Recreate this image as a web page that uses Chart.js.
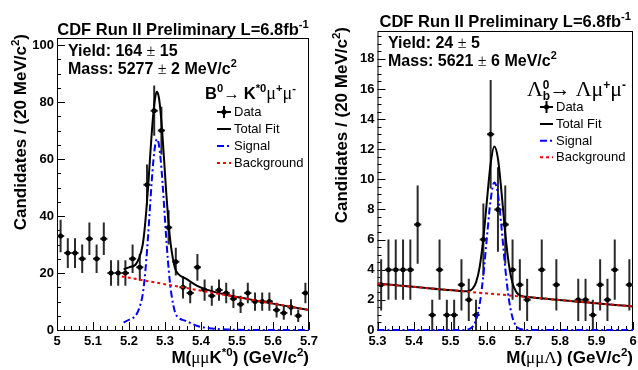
<!DOCTYPE html>
<html><head><meta charset="utf-8">
<script src="https://cdn.jsdelivr.net/npm/chart.js@4/dist/chart.umd.min.js"></script>
<style>
html,body{margin:0;padding:0;background:#fff;}
#wrap{position:relative;width:638px;height:370px;overflow:hidden;background:#fff;}
canvas{position:absolute;top:0;}
#c1{left:0;} #c2{left:319px;}
</style></head><body>
<div id="wrap"><canvas id="c1" width="319" height="370" style="width:319px;height:370px"></canvas><canvas id="c2" width="319" height="370" style="width:319px;height:370px"></canvas></div>
<script>
// ---------- LEFT: B0 -> K*0 mu mu ----------
const leftBins = [5.01,5.03,5.05,5.07,5.09,5.11,5.13,5.15,5.17,5.19,5.21,5.23,5.25,5.27,5.29,5.31,5.33,5.35,5.37,5.39,5.41,5.43,5.45,5.47,5.49,5.51,5.53,5.55,5.57,5.59,5.61,5.63,5.65,5.67,5.69];
const leftCounts = [33,27,27,25,32,25,32,20,20,20,25,22,51,77,70,36,24,15,13,22,14,12,14,13,11,9,13,10,10,10,7,6,8,5,13];
const leftErrors = [5.7,5.2,5.2,5.0,5.7,5.0,5.7,4.5,4.5,4.5,5.0,4.7,7.1,8.8,8.4,6.0,4.9,3.9,3.6,4.7,3.7,3.5,3.7,3.6,3.3,3.0,3.6,3.2,3.2,3.2,2.6,2.4,2.8,2.2,3.6];
const leftFitX = [5.185,5.20,5.218,5.228,5.238,5.243,5.248,5.253,5.258,5.263,5.268,5.273,5.278,5.283,5.288,5.293,5.298,5.303,5.308,5.313,5.318,5.328,5.338,5.358,5.388,5.418,5.478,5.55,5.7];
const leftTotal = [21.3,22.0,22.9,25.2,29.9,34.9,41.8,50.1,59.6,68.8,76.6,81.8,83.6,81.6,76.2,68.1,58.7,49.0,40.4,33.3,28.1,21.6,19.5,18.0,15.6,14.1,12.2,10.4,7.0];
const leftSignal = [2.6,3.6,5.0,7.5,12.4,17.5,24.5,33,42.6,51.9,59.8,65.1,67,65.1,59.8,51.9,42.6,33,24.5,17.5,12.4,6.2,4.3,3.2,1.5,0.7,0.15,0,0];
const leftBkgX = [5.18,5.44,5.7];
const leftBkg = [18.8,12.9,7.0];
const leftYTicks = [0,20,40,60,80,100];
const leftXTicks = [5.0,5.1,5.2,5.3,5.4,5.5,5.6,5.7];
const leftXLabels = ['5','5.1','5.2','5.3','5.4','5.5','5.6','5.7'];

// ---------- RIGHT: Lambda_b -> Lambda mu mu ----------
const rightBins = [5.31,5.33,5.35,5.37,5.39,5.41,5.43,5.45,5.47,5.49,5.51,5.53,5.55,5.57,5.59,5.61,5.63,5.65,5.67,5.69,5.71,5.73,5.75,5.77,5.79,5.81,5.83,5.85,5.87,5.89,5.91,5.93,5.95,5.97,5.99];
const rightCounts = [3,4,4,4,4,7,0,1,4,1,1,3,2,1,6,13,8,7,4,3,2,0,4,0,3,0,0,2,2,1,3,2,4,0,3];
const rightErrors = [1.7,2,2,2,2,2.6,0,1,2,1,1,1.7,1.4,1,2.4,3.6,2.8,2.6,2,1.7,1.4,0,2,0,1.7,0,0,1.4,1.4,1,1.7,1.4,2,0,1.7];
const rightFitX = [5.3,5.52,5.54,5.55,5.56,5.57,5.58,5.59,5.60,5.61,5.62,5.63,5.64,5.65,5.66,5.67,5.68,5.69,5.70,5.72,6.0];
const rightTotal = [3.08,2.60,2.57,2.59,2.73,3.16,4.19,6.08,8.64,11.06,12.19,11.38,9.09,6.43,4.34,3.10,2.53,2.30,2.23,2.17,1.56];
const rightSignal = [0,0,0.01,0.05,0.21,0.67,1.72,3.63,6.21,8.65,9.8,9.02,6.75,4.11,2.04,0.82,0.27,0.07,0.02,0,0];
const rightBkgX = [5.3,6.0];
const rightBkg = [3.08,1.56];
const rightYTicks = [0,2,4,6,8,10,12,14,16,18];
const rightXTicks = [5.3,5.4,5.5,5.6,5.7,5.8,5.9,6.0];
const rightXLabels = ['5.3','5.4','5.5','5.6','5.7','5.8','5.9','6'];

const SANS = '"Liberation Sans", Arial, Helvetica, sans-serif';
const SERIF = '"Liberation Serif", "DejaVu Serif", serif';

function rich(ctx, segs, x, y, size, align, rotate) {
  const parts = segs.map(s => {
    const sz = (s.s ? size * 0.68 : size) * (s.z || 1);
    const font = s.f === 's' ? `${sz}px ${SERIF}` : `${s.f === 'b' ? 'bold ' : ''}${sz}px ${SANS}`;
    ctx.font = font;
    return {t: s.t, font, w: ctx.measureText(s.t).width, dy: s.s === 1 ? -size * 0.42 : (s.s === -1 ? size * 0.25 : 0), keep: s.k};
  });
  let total = 0; parts.forEach(p => { if (!p.keep) total += p.w; });
  ctx.save();
  ctx.translate(x, y);
  if (rotate) ctx.rotate(-Math.PI / 2);
  let cx = align === 'center' ? -total / 2 : (align === 'right' ? -total : 0);
  ctx.fillStyle = '#000'; ctx.textBaseline = 'alphabetic'; ctx.textAlign = 'left';
  parts.forEach(p => { ctx.font = p.font; ctx.fillText(p.t, cx, p.dy); if (!p.keep) cx += p.w; });
  ctx.restore();
}

const decor = {
  id: 'decor',
  beforeDatasetsDraw(chart, args, o) {
    const ctx = chart.ctx, xs = chart.scales.x, ys = chart.scales.y, a = chart.chartArea;
    ctx.save();
    // frame
    ctx.strokeStyle = '#000'; ctx.lineWidth = 1;
    ctx.strokeRect(a.left + 0.5, a.top + 0.5, a.right - a.left - 1, a.bottom - a.top);
    // inside ticks
    ctx.beginPath();
    for (let v = o.yMin; v <= o.yTop + 1e-9; v += o.yMinor) {
      const major = Math.abs(v / o.yMajor - Math.round(v / o.yMajor)) < 1e-6;
      const py = Math.round(ys.getPixelForValue(v)) + 0.5;
      ctx.moveTo(a.left, py); ctx.lineTo(a.left + (major ? 8 : 4), py);
    }
    for (let k = 0; ; k++) {
      const v = o.xMin + k * o.xMinor; if (v > o.xMax + 1e-9) break;
      const major = k % o.xPer === 0;
      const px = Math.round(xs.getPixelForValue(v)) + 0.5;
      ctx.moveTo(px, a.bottom); ctx.lineTo(px, a.bottom - (major ? 8 : 4));
    }
    ctx.stroke();
    // error bars
    ctx.beginPath(); ctx.rect(a.left, a.top, a.right - a.left, a.bottom - a.top); ctx.clip();
    ctx.strokeStyle = '#2a2a2a'; ctx.lineWidth = 2;
    o.bins.forEach((b, i) => {
      const n = o.counts[i]; if (n <= 0) return;
      const e = o.errors[i];
      const px = xs.getPixelForValue(b), py = ys.getPixelForValue(n);
      ctx.beginPath();
      ctx.moveTo(px, ys.getPixelForValue(n - e)); ctx.lineTo(px, ys.getPixelForValue(n + e));
      ctx.moveTo(xs.getPixelForValue(b - o.half), py); ctx.lineTo(xs.getPixelForValue(b + o.half), py);
      ctx.stroke();
    });
    ctx.restore();
  },
  afterDraw(chart, args, o) {
    const ctx = chart.ctx, a = chart.chartArea;
    ctx.save();
    rich(ctx, o.title, (a.left + a.right) / 2, o.titleY, 16.5, 'center');
    rich(ctx, o.yield, o.annX, o.yieldY, 16, 'left');
    rich(ctx, o.mass, o.annX, o.massY, 16, 'left');
    rich(ctx, o.header, o.headX, o.headY, o.headSize, 'left');
    rich(ctx, o.xtitle, a.right, 363, 17, 'right');
    rich(ctx, o.ytitle, o.yTitleX, a.top - 4, 17, 'right', true);
    // legend
    const L = o.leg;
    ctx.lineWidth = 2;
    const mx = (L.x0 + L.x1) / 2;
    ctx.strokeStyle = '#000'; ctx.setLineDash([]);
    ctx.beginPath(); ctx.moveTo(L.x0, L.rows[0]); ctx.lineTo(L.x1, L.rows[0]);
    ctx.moveTo(mx, L.rows[0] - 6); ctx.lineTo(mx, L.rows[0] + 6); ctx.stroke();
    ctx.fillStyle = '#000'; ctx.beginPath(); ctx.arc(mx, L.rows[0], 2.5, 0, Math.PI * 2); ctx.fill();
    const styles = [['#000', []], ['#0000ff', [7, 3, 2, 3]], ['#ff0000', [3, 3]]];
    styles.forEach((s, i) => {
      ctx.strokeStyle = s[0]; ctx.setLineDash(s[1]);
      ctx.beginPath(); ctx.moveTo(L.x0, L.rows[i + 1]); ctx.lineTo(L.x1, L.rows[i + 1]); ctx.stroke();
    });
    ctx.setLineDash([]);
    ctx.fillStyle = '#000'; ctx.font = `13px ${SANS}`; ctx.textBaseline = 'middle'; ctx.textAlign = 'left';
    ['Data', 'Total Fit', 'Signal', 'Background'].forEach((t, i) => ctx.fillText(t, L.tx, L.rows[i] + 0.5));
    ctx.restore();
  }
};

function pts(xs, ys) { return xs.map((x, i) => ({x, y: ys[i]})); }

function makeChart(id, c) {
  const area = c.area;
  const dataPts = c.bins.map((x, i) => ({x, y: c.counts[i]})).filter(p => p.y > 0);
  return new Chart(document.getElementById(id), {
    type: 'scatter',
    data: {datasets: [
      {data: pts(c.bkgX, c.bkg), showLine: true, borderColor: '#ff0000', borderWidth: 2, borderDash: [3, 3], pointRadius: 0, order: 0},
      {data: pts(c.fitX, c.signal), showLine: true, borderColor: '#0000ff', borderWidth: 2, borderDash: [7, 3, 2, 3], pointRadius: 0, cubicInterpolationMode: 'monotone', clip: 3, order: 1},
      {data: pts(c.fitX, c.total), showLine: true, borderColor: '#000', borderWidth: 2, pointRadius: 0, cubicInterpolationMode: 'monotone', order: 2},
      {data: dataPts, showLine: false, pointStyle: 'circle', pointRadius: 2.5, pointBackgroundColor: '#000', pointBorderWidth: 0, order: 3}
    ]},
    options: {
      responsive: false, animation: false, devicePixelRatio: 1,
      layout: {padding: {left: 0, top: area.top, right: 319 - area.right, bottom: 0}},
      plugins: {legend: {display: false}, tooltip: {enabled: false}, decor: c.decor},
      scales: {
        x: {type: 'linear', min: c.xMin, max: c.xMax,
          afterBuildTicks: s => { s.ticks = c.xTicks.map(v => ({value: v})); },
          afterFit: s => { s.height = 370 - area.bottom; s.paddingLeft = 0; s.paddingRight = 0; },
          ticks: {callback: (v, i) => c.xLabels[i], font: {family: SANS, weight: 'bold', size: 13}, color: '#000', padding: 4, maxRotation: 0, autoSkip: false},
          grid: {display: false, drawTicks: false}, border: {display: false}},
        y: {type: 'linear', min: 0, max: c.yMax,
          afterBuildTicks: s => { s.ticks = c.yTicks.map(v => ({value: v})); },
          afterFit: s => { s.width = area.left; s.paddingTop = 0; s.paddingBottom = 0; },
          ticks: {font: {family: SANS, weight: 'bold', size: 13}, color: '#000', padding: 3, autoSkip: false},
          grid: {display: false, drawTicks: false}, border: {display: false}}
      }
    },
    plugins: [decor]
  });
}

makeChart('c1', {
  area: {left: 57, right: 309, top: 38, bottom: 330},
  bins: leftBins, counts: leftCounts, fitX: leftFitX, total: leftTotal, signal: leftSignal, bkgX: leftBkgX, bkg: leftBkg,
  xMin: 5.0, xMax: 5.7, yMax: 102.5, xTicks: leftXTicks, xLabels: leftXLabels, yTicks: leftYTicks,
  decor: {
    bins: leftBins, counts: leftCounts, errors: leftErrors, half: 0.01,
    yMin: 0, yTop: 100, yMinor: 5, yMajor: 20, xMin: 5.0, xMax: 5.7, xMinor: 0.02, xPer: 5,
    title: [{t: 'CDF Run II Preliminary L=6.8fb', f: 'b'}, {t: '-1', f: 'b', s: 1}], titleY: 35,
    yield: [{t: 'Yield: 164 ', f: 'b'}, {t: '±', f: 's'}, {t: ' 15', f: 'b'}], yieldY: 56,
    mass: [{t: 'Mass: 5277 ', f: 'b'}, {t: '±', f: 's'}, {t: ' 2 MeV/c', f: 'b'}, {t: '2', f: 'b', s: 1}], massY: 73.5, annX: 68,
    header: [{t: 'B', f: 'b'}, {t: '0', f: 'b', s: 1}, {t: '→ ', f: 's'}, {t: 'K', f: 'b'}, {t: '*0', f: 'b', s: 1}, {t: 'μ', f: 's', z: 1.1}, {t: '+', f: 'b', s: 1}, {t: 'μ', f: 's', z: 1.1}, {t: '-', f: 'b', s: 1}],
    headX: 205, headY: 99, headSize: 16.5,
    xtitle: [{t: 'M(', f: 'b'}, {t: 'μμ', f: 's'}, {t: 'K', f: 'b'}, {t: '*0', f: 'b', s: 1}, {t: ') (GeV/c', f: 'b'}, {t: '2', f: 'b', s: 1}, {t: ')', f: 'b'}],
    ytitle: [{t: 'Candidates / (20 MeV/c', f: 'b'}, {t: '2', f: 'b', s: 1}, {t: ')', f: 'b'}], yTitleX: 26,
    leg: {x0: 217, x1: 231, tx: 234, rows: [112, 129, 146, 163]}
  }
});

makeChart('c2', {
  area: {left: 58.5, right: 314, top: 31, bottom: 330},
  bins: rightBins, counts: rightCounts, fitX: rightFitX, total: rightTotal, signal: rightSignal, bkgX: rightBkgX, bkg: rightBkg,
  xMin: 5.3, xMax: 6.0, yMax: 19.85, xTicks: rightXTicks, xLabels: rightXLabels, yTicks: rightYTicks,
  decor: {
    bins: rightBins, counts: rightCounts, errors: rightErrors, half: 0.01,
    yMin: 0, yTop: 19.5, yMinor: 0.5, yMajor: 2, xMin: 5.3, xMax: 6.0, xMinor: 0.02, xPer: 5,
    title: [{t: 'CDF Run II Preliminary L=6.8fb', f: 'b'}, {t: '-1', f: 'b', s: 1}], titleY: 27,
    yield: [{t: 'Yield: 24 ', f: 'b'}, {t: '±', f: 's'}, {t: ' 5', f: 'b'}], yieldY: 48,
    mass: [{t: 'Mass: 5621 ', f: 'b'}, {t: '±', f: 's'}, {t: ' 6 MeV/c', f: 'b'}, {t: '2', f: 'b', s: 1}], massY: 66, annX: 69,
    header: [{t: 'Λ', f: 's', z: 1.25}, {t: 'b', f: 'b', s: -1, k: true}, {t: '0', f: 'b', s: 1}, {t: '→ ', f: 's', z: 1.2}, {t: 'Λμ', f: 's', z: 1.25}, {t: '+', f: 'b', s: 1}, {t: 'μ', f: 's', z: 1.25}, {t: '-', f: 'b', s: 1}],
    headX: 208, headY: 96, headSize: 17.5,
    xtitle: [{t: 'M(', f: 'b'}, {t: 'μμΛ', f: 's'}, {t: ') (GeV/c', f: 'b'}, {t: '2', f: 'b', s: 1}, {t: ')', f: 'b'}],
    ytitle: [{t: 'Candidates / (20 MeV/c', f: 'b'}, {t: '2', f: 'b', s: 1}, {t: ')', f: 'b'}], yTitleX: 28,
    leg: {x0: 221, x1: 234, tx: 237, rows: [107, 124, 140.7, 157.3]}
  }
});
</script>
</body></html>
